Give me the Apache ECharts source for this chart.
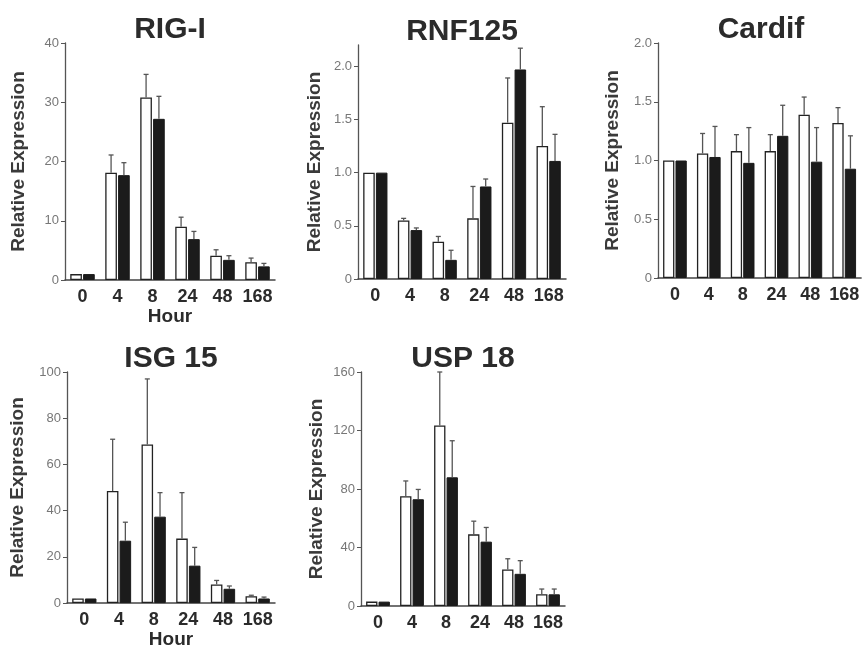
<!DOCTYPE html>
<html>
<head>
<meta charset="utf-8">
<script src="https://cdn.jsdelivr.net/npm/echarts@6/dist/echarts.min.js"></script>
<style>
  html, body { margin: 0; padding: 0; background: #fff; }
  #chart { width: 862px; height: 650px; }
</style>
</head>
<body>
<div id="chart"></div>
<script>
// time points (hours)
const hours = ['0', '4', '8', '24', '48', '168'];

// RIG-I
const rigiOpen = [1, 18.1, 30.8, 9.0, 4.1, 3.0];
const rigiOpenSd = [0, 3.0, 3.9, 1.6, 1.0, 0.7];
const rigiFilled = [1, 17.7, 27.2, 6.9, 3.4, 2.3];
const rigiFilledSd = [0, 2.1, 3.8, 1.3, 0.7, 0.5];

// RNF125
const rnfOpen = [1, 0.55, 0.35, 0.57, 1.47, 1.25];
const rnfOpenSd = [0, 0.02, 0.05, 0.30, 0.42, 0.37];
const rnfFilled = [1, 0.46, 0.18, 0.87, 1.97, 1.11];
const rnfFilledSd = [0, 0.02, 0.09, 0.07, 0.20, 0.25];

// Cardif
const cardifOpen = [1, 1.06, 1.08, 1.08, 1.39, 1.32];
const cardifOpenSd = [0, 0.17, 0.14, 0.14, 0.15, 0.13];
const cardifFilled = [1, 1.03, 0.98, 1.21, 0.99, 0.93];
const cardifFilledSd = [0, 0.26, 0.30, 0.26, 0.29, 0.28];

// ISG 15
const isgOpen = [2, 48.5, 68.6, 27.9, 8.1, 3.0];
const isgOpenSd = [0, 22.4, 28.4, 19.9, 1.7, 0.4];
const isgFilled = [2, 27, 37.4, 16.2, 6.2, 2.0];
const isgFilledSd = [0, 8, 10.4, 7.9, 1.2, 0.6];

// USP 18
const uspOpen = [3, 75, 123.5, 49, 25, 8];
const uspOpenSd = [0, 10.5, 36.5, 9, 7.3, 3.6];
const uspFilled = [3, 73, 88, 44, 22, 8];
const uspFilledSd = [0, 6.7, 25, 9.7, 9, 3.6];

const FONT = '"Liberation Sans", Arial, sans-serif';

const panels = [
  { title: 'RIG-I', open: rigiOpen, openSd: rigiOpenSd, filled: rigiFilled, filledSd: rigiFilledSd,
    grid: { left: 65, top: 43, width: 210, height: 237 }, max: 40, interval: 10, dec: 0, hour: true, gap: 37 },
  { title: 'RNF125', open: rnfOpen, openSd: rnfOpenSd, filled: rnfFilled, filledSd: rnfFilledSd,
    grid: { left: 358, top: 45, width: 208, height: 234 }, max: 2.2, interval: 0.5, dec: 1, hour: false, gap: 34 },
  { title: 'Cardif', open: cardifOpen, openSd: cardifOpenSd, filled: cardifFilled, filledSd: cardifFilledSd,
    grid: { left: 658, top: 43, width: 206, height: 235 }, max: 2, interval: 0.5, dec: 1, hour: false, gap: 36 },
  { title: 'ISG 15', open: isgOpen, openSd: isgOpenSd, filled: isgFilled, filledSd: isgFilledSd,
    grid: { left: 67, top: 372, width: 208, height: 235 }, max: 100, interval: 20, dec: 0, hour: true, gap: 40 },
  { title: 'USP 18', open: uspOpen, openSd: uspOpenSd, filled: uspFilled, filledSd: uspFilledSd,
    grid: { left: 361, top: 372, width: 204, height: 234 }, max: 160, interval: 40, dec: 0, hour: false, gap: 35 }
];

const chart = echarts.init(document.getElementById('chart'));

// error bar above each bar, only the upper whisker
function renderError(params, api) {
  const sd = api.value(2);
  if (!sd) return;
  const i = api.value(0);
  const mean = api.value(1);
  const side = api.value(3);
  const bw = api.size([1, 0])[0] / 3;
  const cx = api.coord([i, 0])[0] + (side ? 1 : -1) * 0.55 * bw;
  const y0 = api.coord([i, mean])[1];
  const y1 = api.coord([i, mean + sd])[1];
  const style = { stroke: '#555', lineWidth: 1.3 };
  return {
    type: 'group',
    children: [
      { type: 'line', shape: { x1: cx, y1: y0, x2: cx, y2: y1 }, style },
      { type: 'line', shape: { x1: cx - 2.5, y1: y1, x2: cx + 2.5, y2: y1 }, style }
    ]
  };
}

const grid = [], xAxis = [], yAxis = [], series = [], title = [];
panels.forEach((p, k) => {
  grid.push(p.grid);
  title.push({
    text: p.title,
    left: p.grid.left + p.grid.width / 2,
    top: p.grid.top - 28,
    textAlign: 'center',
    padding: 0,
    textStyle: { fontFamily: FONT, fontSize: 30, fontWeight: 'bold', color: '#2b2b2b' }
  });
  xAxis.push({
    type: 'category',
    gridIndex: k,
    data: hours,
    name: p.hour ? 'Hour' : '',
    nameLocation: 'middle',
    nameGap: 26,
    nameTextStyle: { fontFamily: FONT, fontSize: 19, fontWeight: 'bold', color: '#2b2b2b' },
    axisLine: { lineStyle: { color: '#444', width: 1.5 } },
    axisTick: { show: false },
    axisLabel: { interval: 0, margin: 8, fontFamily: FONT, fontSize: 18, fontWeight: 'bold', color: '#2b2b2b' }
  });
  yAxis.push({
    type: 'value',
    gridIndex: k,
    min: 0,
    max: p.max,
    interval: p.interval,
    name: 'Relative Expression',
    nameLocation: 'middle',
    nameGap: p.gap,
    nameTextStyle: { fontFamily: FONT, fontSize: 19, fontWeight: 'bold', color: '#3a3a3a' },
    splitLine: { show: false },
    axisLine: { show: true, lineStyle: { color: '#555', width: 1.3 } },
    axisTick: { show: true, length: 4, lineStyle: { color: '#555' } },
    axisLabel: {
      showMaxLabel: p.max === 2.2 ? false : true,
      margin: 6,
      fontFamily: FONT,
      fontSize: 13,
      color: '#777',
      formatter: v => (v === 0 ? '0' : v.toFixed(p.dec))
    }
  });
  series.push({
    type: 'bar',
    xAxisIndex: k,
    yAxisIndex: k,
    data: p.open,
    barCategoryGap: '30%',
    barGap: '10%',
    itemStyle: { color: '#fff', borderColor: '#222', borderWidth: 1.3 }
  });
  series.push({
    type: 'bar',
    xAxisIndex: k,
    yAxisIndex: k,
    data: p.filled,
    barCategoryGap: '30%',
    barGap: '10%',
    itemStyle: { color: '#1b1b1b', borderColor: '#1b1b1b', borderWidth: 1 }
  });
  const errData = [];
  hours.forEach((h, i) => {
    errData.push([i, p.open[i], p.openSd[i], 0]);
    errData.push([i, p.filled[i], p.filledSd[i], 1]);
  });
  series.push({
    type: 'custom',
    xAxisIndex: k,
    yAxisIndex: k,
    renderItem: renderError,
    encode: { x: 0, y: 1 },
    data: errData,
    z: 3
  });
});

chart.setOption({
  animation: false,
  backgroundColor: '#fff',
  title,
  grid,
  xAxis,
  yAxis,
  series
});
</script>
</body>
</html>
